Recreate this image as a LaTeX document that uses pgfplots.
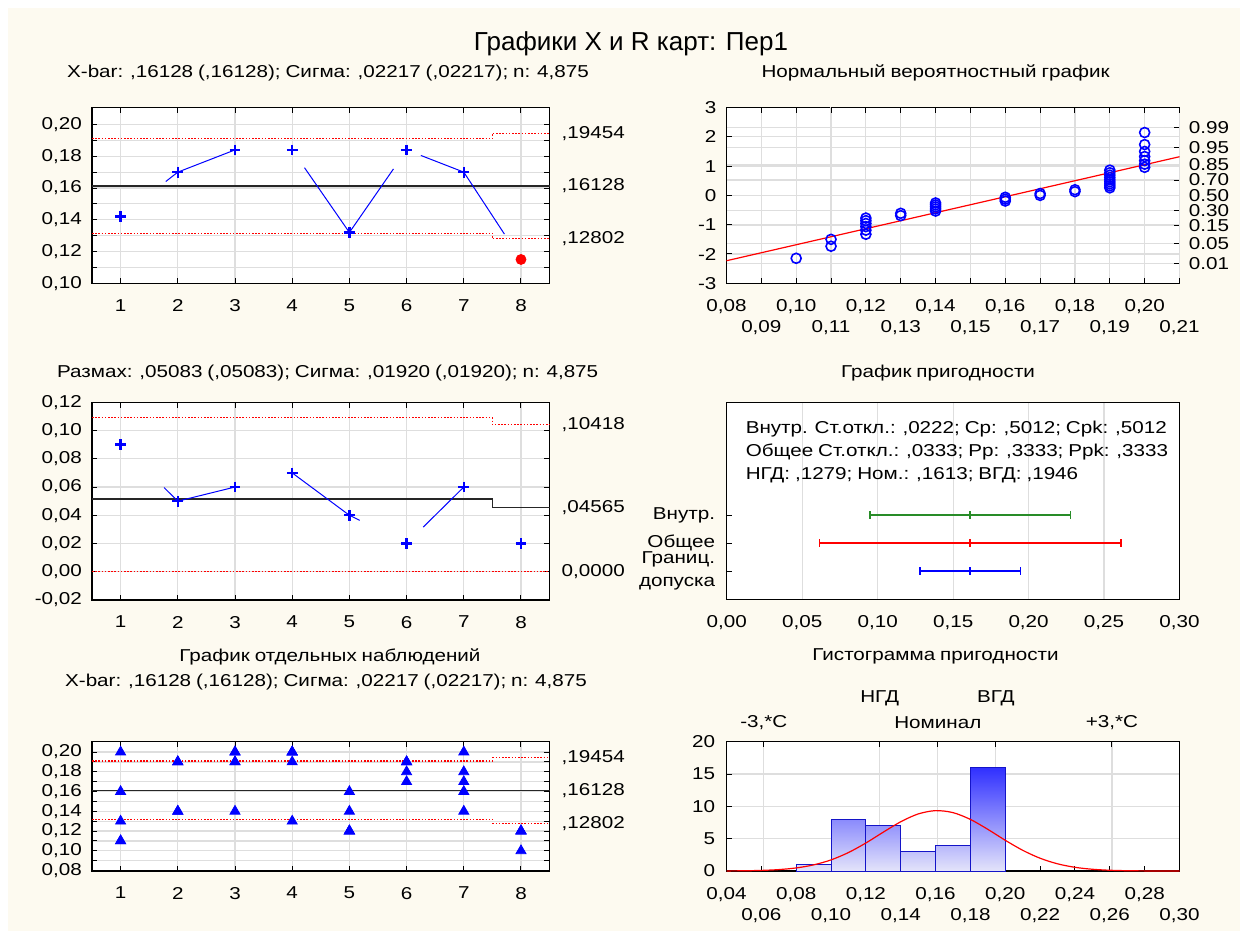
\documentclass[border=0pt]{standalone}
\usepackage{pgfplots}
\pgfplotsset{compat=1.18}
\usepackage{fontspec}
\setmainfont{Liberation Sans}[FakeStretch=1.2, WordSpace=0.85]
\newfontfamily\titlefont{Liberation Sans}
\definecolor{cream}{RGB}{253,250,240}
\definecolor{gridc}{RGB}{222,222,222}
\definecolor{cblue}{RGB}{0,0,255}
\definecolor{cgreen}{RGB}{40,140,40}
\definecolor{htop}{RGB}{48,48,255}
\definecolor{hbot}{RGB}{228,228,250}
\definecolor{hedge}{RGB}{20,20,200}
\pgfplotsset{
  /pgf/number format/assume math mode=true,
  cbase/.style={
    scale only axis, anchor=south west, clip=false,
    axis line style={black, line width=0.6pt},
    tick align=inside,
    major tick length=2.6pt, minor tick length=2.6pt,
    tick style={black, line width=0.5pt},
    major grid style={gridc, line width=0.6pt},
    minor grid style={gridc, line width=0.6pt},
    yticklabel style={xshift=-2pt},
    xticklabel style={yshift=-5pt},
  },
  rlab/.style={
    scale only axis, anchor=south west,
    axis x line=none, axis y line*=right,
    axis line style={draw=none},
    major tick length=0pt,
    yticklabel style={xshift=3pt, anchor=west},
  },
  ctl/.style={red, line width=0.6pt, dash pattern=on 0.8pt off 0.8pt},
  cen/.style={black!85, line width=0.7pt},
  seg/.style={cblue, line width=0.5pt},
}
\begin{document}
\fontsize{8.6pt}{10.3pt}\selectfont%
\begin{tikzpicture}
\fill[white] (0,0) rectangle (624pt,469.5pt);
\fill[cream] (4pt,4pt) rectangle (620pt,465.5pt);

% ---------------- Panel A: X-bar chart
\begin{axis}[cbase, at={(46pt,327.85pt)}, width=228.8pt, height=87.9pt,
  axis background/.style={fill=white},
  xmin=0.5, xmax=8.5, ymin=0.1, ymax=0.2107,
  xtick={1,2,3,4,5,6,7,8}, xticklabels={1,2,3,4,5,6,7,8},
  ytick={0.10,0.12,0.14,0.16,0.18,0.20},
  yticklabels={{0,10},{0,12},{0,14},{0,16},{0,18},{0,20}},
  minor ytick={0.11,0.13,0.15,0.17,0.19},
  xmajorgrids, ymajorgrids, yminorgrids,
  xtick pos=both, ytick pos=both, xticklabel pos=bottom, yticklabel pos=left]
\addplot[ctl] coordinates {(0.5,0.19102) (7.5,0.19102) (7.5,0.19454) (8.5,0.19454)};
\addplot[ctl] coordinates {(0.5,0.13154) (7.5,0.13154) (7.5,0.12802) (8.5,0.12802)};
\addplot[cen] coordinates {(0.5,0.16128) (8.5,0.16128)};
\addplot[seg] coordinates {(1.79,0.1641) (2,0.170) (3,0.184)};
\addplot[seg] coordinates {(4.215,0.1728) (5,0.132) (5.77,0.172)};
\addplot[seg] coordinates {(6.25,0.1805) (7,0.170) (7.71,0.131)};
\addplot[only marks, mark=+, mark size=2.7pt, cblue, line width=1.2pt]
  coordinates {(1,0.142) (2,0.170) (3,0.184) (4,0.184) (5,0.132) (6,0.184) (7,0.170)};
\addplot[only marks, mark=*, mark size=2.5pt, red] coordinates {(8,0.115)};
\end{axis}
\begin{axis}[rlab, at={(46pt,327.85pt)}, width=228.8pt, height=87.9pt,
  xmin=0.5, xmax=8.5, ymin=0.1, ymax=0.2107,
  ytick={0.12802,0.16128,0.19454}, yticklabels={{,12802},{,16128},{,19454}}]
\addplot[draw=none] coordinates {(1,0.15)};
\end{axis}

% ---------------- Panel B: normal probability plot
\begin{axis}[scale only axis, anchor=south west, at={(363.25pt,327.85pt)}, width=226.5pt, height=87.9pt,
  axis background/.style={fill=white},
  axis line style={black, line width=0.6pt},
  tick align=inside, major tick length=2.6pt, tick style={black, line width=0.5pt},
  major grid style={gridc, line width=0.6pt},
  xmin=0.08, xmax=0.21, ymin=-3, ymax=3,
  xtick=\empty,
  ytick={-2.326,-1.645,-1.036,-0.524,0,0.524,1.036,1.645,2.326},
  yticklabels={0.01,0.05,0.15,0.30,0.50,0.70,0.85,0.95,0.99},
  ytick pos=right, yticklabel pos=right, ymajorgrids,
  yticklabel style={xshift=1.6pt, anchor=west}]
\addplot[draw=none] coordinates {(0.1,0)};
\end{axis}
\begin{axis}[cbase, at={(363.25pt,327.85pt)}, width=226.5pt, height=87.9pt,
  xmin=0.08, xmax=0.21, ymin=-3, ymax=3,
  xtick={0.08,0.10,0.12,0.14,0.16,0.18,0.20},
  xticklabels={{0,08},{0,10},{0,12},{0,14},{0,16},{0,18},{0,20}},
  extra x ticks={0.09,0.11,0.13,0.15,0.17,0.19,0.21},
  extra x tick labels={{0,09},{0,11},{0,13},{0,15},{0,17},{0,19},{0,21}},
  extra x tick style={grid=major, xticklabel style={yshift=-10.5pt}},
  ytick={-3,-2,-1,0,1,2,3}, yticklabels={-3,-2,-1,0,1,2,3},
  xmajorgrids, ymajorgrids,
  xtick pos=both, xticklabel pos=bottom, ytick pos=left]
\addplot[red, line width=0.6pt] coordinates {(0.08,-2.23) (0.21,1.32)};
\addplot[only marks, mark=o, mark size=2.5pt, cblue, line width=0.8pt] coordinates {
(0.10,-2.146)
(0.11,-1.735) (0.11,-1.500)
(0.12,-1.326) (0.12,-1.186) (0.12,-1.066) (0.12,-0.959) (0.12,-0.862) (0.12,-0.773)
(0.13,-0.690) (0.13,-0.611)
(0.14,-0.535) (0.14,-0.463) (0.14,-0.393) (0.14,-0.325) (0.14,-0.258)
(0.16,-0.193) (0.16,-0.128) (0.16,-0.064)
(0.17,0) (0.17,0.064)
(0.18,0.128) (0.18,0.193)
(0.19,0.258) (0.19,0.325) (0.19,0.393) (0.19,0.463) (0.19,0.535) (0.19,0.611) (0.19,0.690) (0.19,0.773) (0.19,0.862)
(0.20,0.959) (0.20,1.066) (0.20,1.186) (0.20,1.326) (0.20,1.500) (0.20,1.735) (0.20,2.146)};
\end{axis}

% ---------------- Panel C: R chart
\begin{axis}[cbase, at={(46pt,169.5pt)}, width=228.8pt, height=98.85pt,
  axis background/.style={fill=white},
  xmin=0.5, xmax=8.5, ymin=-0.02, ymax=0.12,
  xtick={1,2,3,4,5,6,7,8}, xticklabels={1,2,3,4,5,6,7,8},
  ytick={-0.02,0,0.02,0.04,0.06,0.08,0.10,0.12},
  yticklabels={{-0,02},{0,00},{0,02},{0,04},{0,06},{0,08},{0,10},{0,12}},
  xmajorgrids, ymajorgrids,
  xtick pos=both, ytick pos=both, xticklabel pos=bottom, yticklabel pos=left]
\addplot[ctl] coordinates {(0.5,0.10902) (7.5,0.10902) (7.5,0.10418) (8.5,0.10418)};
\addplot[ctl] coordinates {(0.5,0) (8.5,0)};
\addplot[cen] coordinates {(0.5,0.05157) (7.5,0.05157) (7.5,0.04565) (8.5,0.04565)};
\addplot[seg] coordinates {(1.76,0.0596) (2,0.05) (3,0.06)};
\addplot[seg] coordinates {(4,0.07) (5,0.04) (5.18,0.0364)};
\addplot[seg] coordinates {(6.29,0.0316) (7,0.06)};
\addplot[only marks, mark=+, mark size=2.7pt, cblue, line width=1.2pt]
  coordinates {(1,0.09) (2,0.05) (3,0.06) (4,0.07) (5,0.04) (6,0.02) (7,0.06) (8,0.02)};
\end{axis}
\begin{axis}[rlab, at={(46pt,169.5pt)}, width=228.8pt, height=98.85pt,
  xmin=0.5, xmax=8.5, ymin=-0.02, ymax=0.12,
  ytick={0,0.04565,0.10418}, yticklabels={{0,0000},{,04565},{,10418}}]
\addplot[draw=none] coordinates {(1,0.05)};
\end{axis}

% ---------------- Panel D: capability plot
\begin{axis}[cbase, at={(363.4pt,169.85pt)}, width=226.35pt, height=98.3pt,
  axis background/.style={fill=white},
  xmin=0, xmax=0.30, ymin=0, ymax=7,
  xtick={0,0.05,0.10,0.15,0.20,0.25,0.30},
  xticklabels={{0,00},{0,05},{0,10},{0,15},{0,20},{0,25},{0,30}},
  ytick={1,2,3}, yticklabels={{Границ.\\допуска},{Общее},{Внутр.}},
  yticklabel style={align=right, xshift=-0.8pt, font=\fontsize{8.6pt}{11.6pt}\selectfont},
  xmajorgrids, xtick pos=bottom, ytick pos=left, major x tick style={draw=none}]
\addplot[cgreen, line width=0.8pt, mark=|, mark size=2pt, mark options={line width=0.8pt}]
  coordinates {(0.0948,3) (0.16128,3) (0.2278,3)};
\addplot[red, line width=0.8pt, mark=|, mark size=2pt, mark options={line width=0.8pt}]
  coordinates {(0.0614,2) (0.16128,2) (0.2612,2)};
\addplot[cblue, line width=0.8pt, mark=|, mark size=2pt, mark options={line width=0.8pt}]
  coordinates {(0.12802,1) (0.16128,1) (0.19454,1)};
\node[anchor=west] at (axis cs:0.0085,6.05) {Внутр. Ст.откл.: ,0222; Cp: ,5012; Cpk: ,5012};
\node[anchor=west] at (axis cs:0.0085,5.25) {Общее Ст.откл.: ,0333; Pp: ,3333; Ppk: ,3333};
\node[anchor=west] at (axis cs:0.0085,4.42) {НГД: ,1279; Ном.: ,1613; ВГД: ,1946};
\end{axis}

% ---------------- Panel E: individual observations
\begin{axis}[cbase, at={(46pt,34pt)}, width=228.8pt, height=64.65pt,
  axis background/.style={fill=white},
  xmin=0.5, xmax=8.5, ymin=0.0795, ymax=0.2105,
  xtick={1,2,3,4,5,6,7,8}, xticklabels={1,2,3,4,5,6,7,8},
  ytick={0.08,0.10,0.12,0.14,0.16,0.18,0.20},
  yticklabels={{0,08},{0,10},{0,12},{0,14},{0,16},{0,18},{0,20}},
  minor ytick={0.09,0.11,0.13,0.15,0.17,0.19},
  xmajorgrids, ymajorgrids, yminorgrids,
  xtick pos=both, ytick pos=both, xticklabel pos=bottom, yticklabel pos=left]
\addplot[ctl] coordinates {(0.5,0.19102) (7.5,0.19102)};
\addplot[ctl] coordinates {(7.5,0.19454) (8.5,0.19454)};
\addplot[ctl] coordinates {(0.5,0.13154) (7.5,0.13154)};
\addplot[ctl] coordinates {(7.5,0.12802) (8.5,0.12802)};
\addplot[cen] coordinates {(0.5,0.16128) (8.5,0.16128)};
\addplot[only marks, mark=triangle*, mark size=2.9pt, cblue] coordinates {
(1,0.20) (1,0.16) (1,0.13) (1,0.11) (1,0.11)
(2,0.19) (2,0.19) (2,0.19) (2,0.14) (2,0.14)
(3,0.20) (3,0.20) (3,0.19) (3,0.19) (3,0.14)
(4,0.20) (4,0.20) (4,0.20) (4,0.19) (4,0.13)
(5,0.16) (5,0.14) (5,0.12) (5,0.12) (5,0.12)
(6,0.19) (6,0.19) (6,0.19) (6,0.18) (6,0.17)
(7,0.20) (7,0.18) (7,0.17) (7,0.16) (7,0.14)
(8,0.12) (8,0.12) (8,0.12) (8,0.10)};
\end{axis}
\begin{axis}[rlab, at={(46pt,34pt)}, width=228.8pt, height=64.65pt,
  xmin=0.5, xmax=8.5, ymin=0.0795, ymax=0.2105,
  ytick={0.12802,0.16128,0.19454}, yticklabels={{,12802},{,16128},{,19454}}]
\addplot[draw=none] coordinates {(1,0.15)};
\end{axis}

% ---------------- Panel F: capability histogram
\begin{axis}[scale only axis, anchor=south west, at={(363.25pt,34pt)}, width=226.5pt, height=64.65pt,
  axis background/.style={fill=white},
  axis line style={black, line width=0.6pt},
  tick align=inside, major tick length=2.6pt, tick style={black, line width=0.5pt},
  major grid style={gridc, line width=0.6pt},
  xmin=0.04, xmax=0.30, ymin=0, ymax=20,
  xtick={0.0614,0.1279,0.1613,0.1946,0.2612}, xticklabels={}, xtick pos=top, xmajorgrids,
  ytick={5,10,15}, yticklabels={}, ymajorgrids, ytick style={draw=none}]
\addplot[draw=none] coordinates {(0.1,1)};
\end{axis}
\begin{axis}[cbase, at={(363.25pt,34pt)}, width=226.5pt, height=64.65pt,
  xmin=0.04, xmax=0.30, ymin=0, ymax=20,
  xtick={0.04,0.08,0.12,0.16,0.20,0.24,0.28},
  xticklabels={{0,04},{0,08},{0,12},{0,16},{0,20},{0,24},{0,28}},
  extra x ticks={0.06,0.10,0.14,0.18,0.22,0.26,0.30},
  extra x tick labels={{0,06},{0,10},{0,14},{0,18},{0,22},{0,26},{0,30}},
  extra x tick style={xticklabel style={yshift=-10.5pt}},
  ytick={0,5,10,15,20}, yticklabels={0,5,10,15,20},
  yticklabel style={xshift=-0.6pt},
  xtick pos=bottom, ytick pos=left]
\addplot[draw=hedge, line width=0.5pt, top color=htop!6!hbot, bottom color=hbot]
  coordinates {(0.08,0) (0.08,1) (0.10,1) (0.10,0)} \closedcycle;
\addplot[draw=hedge, line width=0.5pt, top color=htop!50!hbot, bottom color=hbot]
  coordinates {(0.10,0) (0.10,8) (0.12,8) (0.12,0)} \closedcycle;
\addplot[draw=hedge, line width=0.5pt, top color=htop!44!hbot, bottom color=hbot]
  coordinates {(0.12,0) (0.12,7) (0.14,7) (0.14,0)} \closedcycle;
\addplot[draw=hedge, line width=0.5pt, top color=htop!19!hbot, bottom color=hbot]
  coordinates {(0.14,0) (0.14,3) (0.16,3) (0.16,0)} \closedcycle;
\addplot[draw=hedge, line width=0.5pt, top color=htop!25!hbot, bottom color=hbot]
  coordinates {(0.16,0) (0.16,4) (0.18,4) (0.18,0)} \closedcycle;
\addplot[draw=hedge, line width=0.5pt, top color=htop!100!hbot, bottom color=hbot]
  coordinates {(0.18,0) (0.18,16) (0.20,16) (0.20,0)} \closedcycle;
\addplot[red, line width=0.6pt, smooth] coordinates {
(0.04,0.012) (0.05,0.035) (0.06,0.092) (0.07,0.218) (0.08,0.475) (0.09,0.946)
(0.10,1.719) (0.11,2.855) (0.12,4.334) (0.13,6.012) (0.14,7.619) (0.15,8.824)
(0.16,9.338) (0.17,9.030) (0.18,7.979) (0.19,6.443) (0.20,4.753) (0.21,3.204)
(0.22,1.974) (0.23,1.111) (0.24,0.571) (0.25,0.269) (0.26,0.115) (0.27,0.045)
(0.28,0.016) (0.29,0.005) (0.30,0.002)};
\node at (axis cs:0.1279,20) [yshift=21.7pt] {НГД};
\node at (axis cs:0.1946,20) [yshift=21.7pt] {ВГД};
\node at (axis cs:0.0614,20) [yshift=9.5pt] {-3,*C};
\node at (axis cs:0.1613,20) [yshift=9.5pt] {Номинал};
\node at (axis cs:0.2612,20) [yshift=9.5pt] {+3,*C};
\end{axis}

% ---------------- titles
\node at (315.5pt,447.85pt) {\titlefont\fontsize{13pt}{15pt}\selectfont Графики X и R карт: Пер1};
\node at (164pt,432.85pt) {X-bar: ,16128 (,16128); Сигма: ,02217 (,02217); n: 4,875};
\node at (467.8pt,432.85pt) {Нормальный вероятностный график};
\node at (163.85pt,282.85pt) {Размах: ,05083 (,05083); Сигма: ,01920 (,01920); n: 4,875};
\node at (469pt,282.85pt) {График пригодности};
\node at (165pt,141.15pt) {График отдельных наблюдений};
\node at (163pt,128.65pt) {X-bar: ,16128 (,16128); Сигма: ,02217 (,02217); n: 4,875};
\node at (467.75pt,141.15pt) {Гистограмма пригодности};
\pgfresetboundingbox
\useasboundingbox (0,0) rectangle (624pt,469.5pt);
\end{tikzpicture}
\end{document}
